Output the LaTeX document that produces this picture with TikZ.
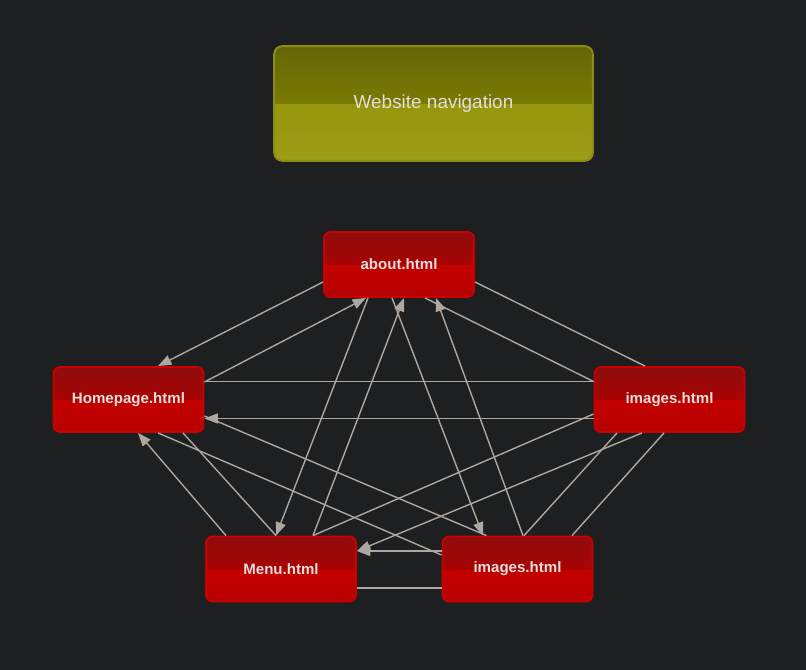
\documentclass[tikz,border=0pt]{standalone}
\usepackage{fontspec}
\setmainfont{Liberation Sans}
\usetikzlibrary{calc,arrows.meta}
\definecolor{bgc}{HTML}{1E1F21}
\definecolor{edgec}{HTML}{ADA79F}
\definecolor{redborder}{HTML}{CC0000}
\definecolor{redtopA}{HTML}{900C0C}
\definecolor{redtopB}{HTML}{A80404}
\definecolor{redbotA}{HTML}{D20000}
\definecolor{redbotB}{HTML}{B60000}
\definecolor{olborder}{HTML}{8C8C14}
\definecolor{oltopA}{HTML}{666608}
\definecolor{oltopB}{HTML}{7A7A04}
\definecolor{olbotA}{HTML}{929200}
\definecolor{olbotB}{HTML}{9C9C18}
\definecolor{txtc}{HTML}{E2DEDC}
\tikzset{
  pagebox/.style={draw=redborder, line width=1.4pt, rounded corners=5pt,
    minimum width=112.5pt, minimum height=48.75pt, inner sep=0pt,
    text=txtc, font=\bfseries\fontsize{11.3}{13}\selectfont,
    path picture={
      \fill[sharp corners, top color=redbotA, bottom color=redbotB]
        (path picture bounding box.south west) rectangle (path picture bounding box.north east);
      \fill[sharp corners, top color=redtopA, bottom color=redtopB]
        (path picture bounding box.west) rectangle (path picture bounding box.north east);
    }},
  titlebox/.style={draw=olborder, line width=1.4pt, rounded corners=6pt,
    minimum width=239pt, minimum height=86pt, inner sep=0pt,
    text=txtc, font=\fontsize{14.2}{17}\selectfont,
    path picture={
      \fill[sharp corners, top color=olbotA, bottom color=olbotB]
        (path picture bounding box.south west) rectangle (path picture bounding box.north east);
      \fill[sharp corners, top color=oltopA, bottom color=oltopB]
        (path picture bounding box.west) rectangle (path picture bounding box.north east);
    }},
  link/.style={draw=edgec, line width=1.05pt},
  arr/.style={link, -{Triangle[length=10pt,width=7.5pt]}}
}
\begin{document}
\begin{tikzpicture}[x=0.75pt,y=-0.75pt]
\fill[bgc] (0,0) rectangle (806,670);
\useasboundingbox (0,0) rectangle (806,670);

\node[titlebox] (T) at (433.5,103.5) {Website navigation};
\node[pagebox] (A) at (399,264.5) {about.html};
\node[pagebox] (H) at (128.5,399.5) {Homepage.html};
\node[pagebox] (R) at (669.5,399.5) {images.html};
\node[pagebox] (M) at (281,569) {Menu.html};
\node[pagebox] (B) at (517.5,569) {images.html};

% about <-> Homepage
\draw[arr] ($(A.west)+(0,17.5)$) -- ($(H.north)+(29.5,0)$);
\draw[arr] ($(H.east)+(0,-17.5)$) -- ($(A.south)+(-33,0)$);
% about <-> Menu
\draw[arr] ($(A.south)+(-31,0)$) -- ($(M.north)+(-5,0)$);
\draw[arr] ($(M.north)+(32,0)$) -- ($(A.south)+(5,0)$);
% about <-> images (bottom)
\draw[arr] ($(A.south)+(-7,0)$) -- ($(B.north)+(-34.5,0)$);
\draw[arr] ($(B.north)+(5.5,0)$) -- ($(A.south)+(37,0)$);
% about <-> images (right)
\draw[link] ($(A.east)+(0,17.5)$) -- ($(R.north)+(-24.5,0)$);
\draw[link] ($(R.west)+(0,-18)$) -- ($(A.south)+(26,0)$);
% Homepage <-> images (right)
\draw[link] ($(H.east)+(0,-18)$) -- ($(R.west)+(0,-18)$);
\draw[arr] ($(R.west)+(0,19)$) -- ($(H.east)+(0,19)$);
% Homepage <-> images (bottom)
\draw[link] ($(H.east)+(0,16.5)$) -- ($(B.north)+(-31,0)$);
\draw[link] ($(H.south)+(29.5,0)$) -- ($(B.west)+(0,-14)$);
% Homepage <-> Menu
\draw[link] ($(H.south)+(54.5,0)$) -- ($(M.north)+(-5,0)$);
\draw[arr] ($(M.north)+(-55,0)$) -- ($(H.south)+(9.5,0)$);
% images (right) <-> Menu
\draw[link] ($(R.west)+(0,14.5)$) -- ($(M.north)+(32,0)$);
\draw[arr] ($(R.south)+(-27.5,0)$) -- ($(M.east)+(0,-18)$);
% images (right) <-> images (bottom)
\draw[link] ($(R.south)+(-52.5,0)$) -- ($(B.north)+(6.5,0)$);
\draw[link] ($(R.south)+(-5.5,0)$) -- ($(B.north)+(54.5,0)$);
% images (bottom) <-> Menu
\draw[arr] ($(B.west)+(0,-18)$) -- ($(M.east)+(0,-18)$);
\draw[link] ($(M.east)+(0,19)$) -- ($(B.west)+(0,19)$);
\end{tikzpicture}
\end{document}
